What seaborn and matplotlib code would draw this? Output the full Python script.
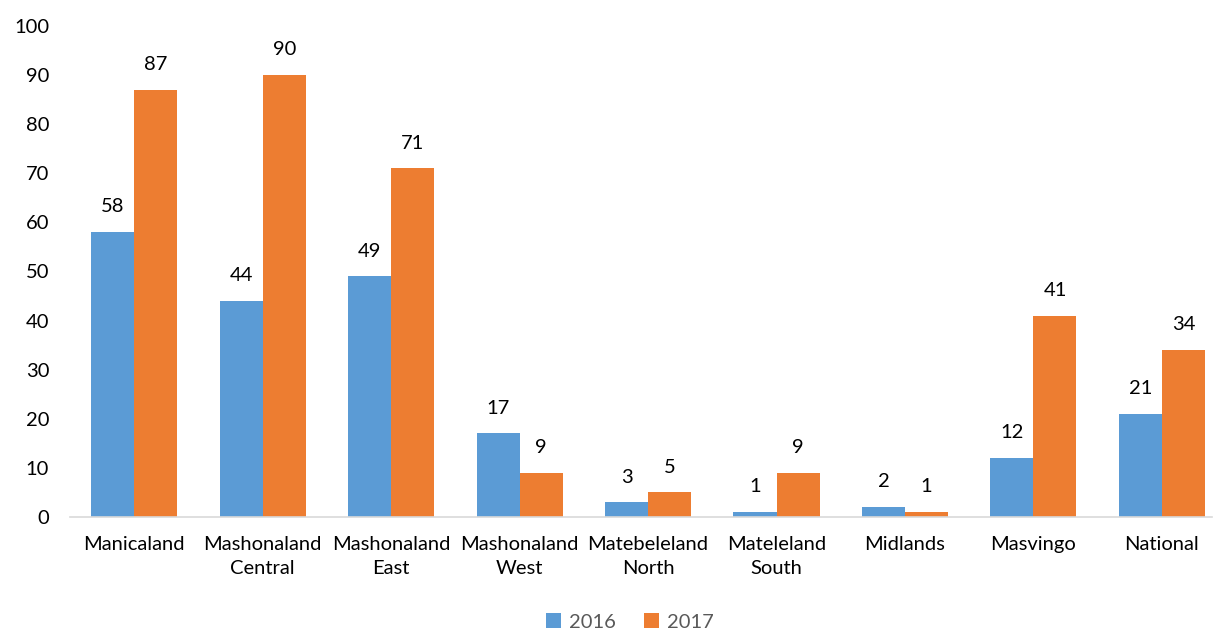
import matplotlib
matplotlib.use("Agg")
import matplotlib.pyplot as plt
import seaborn as sns
import pandas as pd

regions = ["Manicaland", "Mashonaland\nCentral", "Mashonaland\nEast", "Mashonaland\nWest",
           "Matebeleland\nNorth", "Mateleland\nSouth", "Midlands", "Masvingo", "National"]
years = ["2016", "2017"]
values_2016 = [58, 44, 49, 17, 3, 1, 2, 12, 21]
values_2017 = [87, 90, 71, 9, 5, 9, 1, 41, 34]
y_ticks = [0, 10, 20, 30, 40, 50, 60, 70, 80, 90, 100]

df = pd.DataFrame({
    "region": regions * 2,
    "year": [years[0]] * len(regions) + [years[1]] * len(regions),
    "value": values_2016 + values_2017,
})

sns.set_theme(style="white")
plt.rcParams["font.family"] = ["Lato", "DejaVu Sans"]

fig = plt.figure(figsize=(12.14, 6.32), dpi=100)
ax = fig.add_axes([70 / 1214, 0.182, 1142 / 1214, 0.777])

sns.barplot(data=df, x="region", y="value", hue="year", order=regions, hue_order=years,
            palette=["#5B9BD5", "#ED7D31"], saturation=1, width=0.67, linewidth=0,
            ax=ax, legend=True)

for c in ax.containers:
    ax.bar_label(c, labels=[f"{int(v)}" for v in c.datavalues], padding=12, fontsize=14.5, color="#000000")

ax.set_ylim(0, 100)
ax.set_yticks(y_ticks)
ax.set_xlim(-0.5, 8.39)
ax.set_xlabel("")
ax.set_ylabel("")
ax.tick_params(axis="y", labelsize=14.5, colors="#000000", length=0, pad=15)
ax.tick_params(axis="x", labelsize=14.5, colors="#000000", length=0, pad=14)
for lbl in ax.get_xticklabels():
    lbl.set_linespacing(1.5)
for s in ["top", "right", "left"]:
    ax.spines[s].set_visible(False)
ax.spines["bottom"].set_color("#D9D9D9")
ax.spines["bottom"].set_linewidth(1.2)

handles, labels = ax.get_legend_handles_labels()
ax.get_legend().remove()
leg = fig.legend(handles, labels, loc="center", bbox_to_anchor=(0.519, 0.016), ncol=2,
                 frameon=False, fontsize=14.5, handlelength=0.75, handleheight=0.75,
                 handletextpad=0.4, columnspacing=1.4)
for t in leg.get_texts():
    t.set_color("#595959")

fig.savefig("out.png", dpi=100)
